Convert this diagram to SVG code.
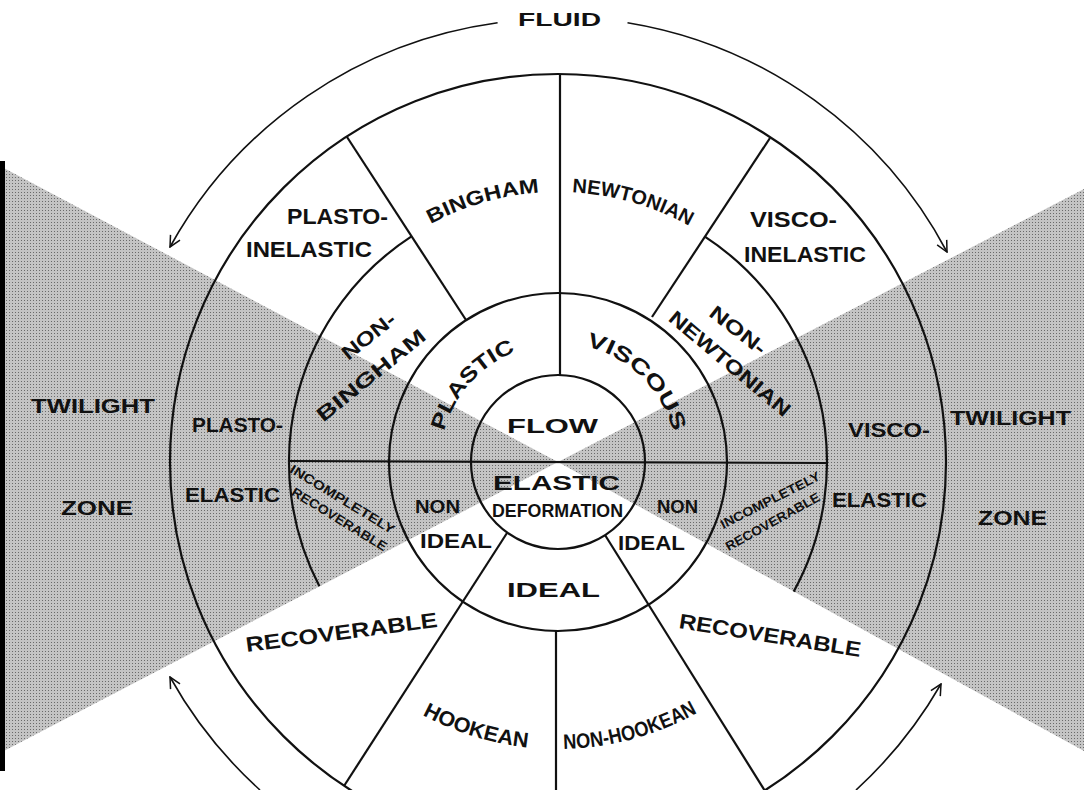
<svg xmlns="http://www.w3.org/2000/svg" width="1084" height="790" viewBox="0 0 1084 790">
<defs>
  <pattern id="halftone" width="3" height="3" patternUnits="userSpaceOnUse">
    <rect width="3" height="3" fill="#c4c4c4"/>
    <rect x="0" y="0" width="1" height="1" fill="#6a6a6a"/>
  </pattern>
  <marker id="arrow" viewBox="0 0 12 12" refX="11" refY="6" markerWidth="13" markerHeight="13" markerUnits="userSpaceOnUse" orient="auto">
    <path d="M1,1 L11,6 L1,11" fill="none" stroke="#111" stroke-width="1.4"/>
  </marker>
  <path id="pBinghamTop" d="M430.4,224.1 A270,270 0 0 1 539.6,192.6"/>
  <path id="pNewtonianTop" d="M572.1,192.4 A270,270 0 0 1 689.3,226.1"/>
  <path id="pPlastic" d="M444.0,431.5 A118,118 0 0 1 515.7,351.8"/>
  <path id="pViscous" d="M586.0,346.3 A119,119 0 0 1 673.0,431.6"/>
  <path id="pHookean" d="M421.9,714.7 A287,287 0 0 0 528.0,747.4"/>
  <path id="pNonHookean" d="M563.0,749.0 A287,287 0 0 0 698.0,712.5"/>
</defs>
<style>
  .ln { fill: none; stroke: #111; stroke-width: 2.2; }
  .thin { fill: none; stroke: #111; stroke-width: 1.6; }
  .shade { fill: url(#halftone); }
  text { font-family: "Liberation Sans", Arial, sans-serif; font-weight: bold; fill: #111; }
  .t22 { font-size: 22px; }
  .t21 { font-size: 21px; }
  .t20 { font-size: 20px; }
  .t19 { font-size: 19px; }
  .t18 { font-size: 18px; }
  .t13 { font-size: 13px; }
</style>
<rect width="1084" height="790" fill="#ffffff"/>

<g id="twilight-shading">
  <polygon class="shade" points="558,462 0,166 0,753"/>
  <polygon class="shade" points="558,462 1084,189 1084,751"/>
  <rect x="0" y="161" width="5" height="610" fill="#000"/>
</g>

<g id="connectors">
  <circle class="ln" cx="558" cy="462" r="87"/>
  <circle class="ln" cx="558" cy="462" r="169"/>
  <circle class="ln" cx="558" cy="462" r="388"/>
  <path class="ln" d="M411.5,236.4 A269,269 0 0 0 319.4,586.2"/>
  <path class="ln" d="M704.5,236.4 A269,269 0 0 1 793.7,591.6"/>
  <line class="ln" x1="289" y1="461" x2="827" y2="463"/>
  <line class="ln" x1="560" y1="74" x2="560" y2="375"/>
  <line class="ln" x1="556" y1="631" x2="556" y2="790"/>
  <line class="ln" x1="347" y1="137" x2="466" y2="320"/>
  <line class="ln" x1="770" y1="138" x2="652" y2="317"/>
  <line class="ln" x1="507" y1="533" x2="344" y2="786"/>
  <line class="ln" x1="605" y1="535" x2="765" y2="791"/>
  <path class="thin" d="M497.6,22.7 A443,443 0 0 0 170,247" marker-end="url(#arrow)"/>
  <path class="thin" d="M627.5,22.7 A443,443 0 0 1 947,252" marker-end="url(#arrow)"/>
  <path class="thin" d="M260,790 A443,443 0 0 1 170,677" marker-end="url(#arrow)"/>
  <path class="thin" d="M856,790 A443,443 0 0 0 941,684" marker-end="url(#arrow)"/>
</g>

<g id="fluid"><text class="t19" x="559.5" y="26" text-anchor="middle" textLength="83" lengthAdjust="spacingAndGlyphs">FLUID</text></g>

<g id="plasto-inelastic">
  <text class="t22" x="337.5" y="224" text-anchor="middle" textLength="101" lengthAdjust="spacingAndGlyphs">PLASTO-</text>
  <text class="t22" x="309" y="257" text-anchor="middle" textLength="126" lengthAdjust="spacingAndGlyphs">INELASTIC</text>
</g>
<g id="visco-inelastic">
  <text class="t22" x="793.5" y="227" text-anchor="middle" textLength="87" lengthAdjust="spacingAndGlyphs">VISCO-</text>
  <text class="t22" x="805" y="262" text-anchor="middle" textLength="122" lengthAdjust="spacingAndGlyphs">INELASTIC</text>
</g>
<g id="bingham"><text class="t20"><textPath href="#pBinghamTop" startOffset="50%" text-anchor="middle" textLength="114" lengthAdjust="spacingAndGlyphs">BINGHAM</textPath></text></g>
<g id="newtonian"><text class="t20"><textPath href="#pNewtonianTop" startOffset="50%" text-anchor="middle" textLength="123" lengthAdjust="spacingAndGlyphs">NEWTONIAN</textPath></text></g>

<g id="non-bingham">
  <text class="t20" transform="translate(368.3,335.8) rotate(-38.5)" x="0" y="7.2" text-anchor="middle" textLength="63" lengthAdjust="spacingAndGlyphs">NON-</text>
  <text class="t20" transform="translate(370.8,375) rotate(-39)" x="0" y="7.2" text-anchor="middle" textLength="134" lengthAdjust="spacingAndGlyphs">BINGHAM</text>
</g>
<g id="non-newtonian">
  <text class="t20" transform="translate(738.3,330) rotate(38)" x="0" y="7.2" text-anchor="middle" textLength="66" lengthAdjust="spacingAndGlyphs">NON-</text>
  <text class="t20" transform="translate(730,363.3) rotate(40)" x="0" y="7.2" text-anchor="middle" textLength="152" lengthAdjust="spacingAndGlyphs">NEWTONIAN</text>
</g>

<g id="plastic"><text class="t21"><textPath href="#pPlastic" startOffset="50%" text-anchor="middle" textLength="111" lengthAdjust="spacingAndGlyphs">PLASTIC</textPath></text></g>
<g id="viscous"><text class="t21"><textPath href="#pViscous" startOffset="50%" text-anchor="middle" textLength="128" lengthAdjust="spacingAndGlyphs">VISCOUS</textPath></text></g>

<g id="flow"><text class="t21" x="552.5" y="433" text-anchor="middle" textLength="91" lengthAdjust="spacingAndGlyphs">FLOW</text></g>
<g id="elastic-deformation">
  <text class="t21" x="556.5" y="490" text-anchor="middle" textLength="127" lengthAdjust="spacingAndGlyphs">ELASTIC</text>
  <text class="t18" x="557.5" y="517" text-anchor="middle" textLength="131" lengthAdjust="spacingAndGlyphs">DEFORMATION</text>
</g>
<g id="non-ideal-left">
  <text class="t18" x="437.5" y="513" text-anchor="middle" textLength="45" lengthAdjust="spacingAndGlyphs">NON</text>
  <text class="t20" x="456" y="548" text-anchor="middle" textLength="72" lengthAdjust="spacingAndGlyphs">IDEAL</text>
</g>
<g id="non-ideal-right">
  <text class="t18" x="677.5" y="513" text-anchor="middle" textLength="41" lengthAdjust="spacingAndGlyphs">NON</text>
  <text class="t20" x="651.5" y="550" text-anchor="middle" textLength="67" lengthAdjust="spacingAndGlyphs">IDEAL</text>
</g>
<g id="ideal"><text class="t21" x="553.5" y="597" text-anchor="middle" textLength="93" lengthAdjust="spacingAndGlyphs">IDEAL</text></g>

<g id="twilight-zone-left">
  <text class="t21" x="93" y="413" text-anchor="middle" textLength="124" lengthAdjust="spacingAndGlyphs">TWILIGHT</text>
  <text class="t20" x="97" y="515" text-anchor="middle" textLength="72" lengthAdjust="spacingAndGlyphs">ZONE</text>
</g>
<g id="twilight-zone-right">
  <text class="t21" x="1010.5" y="425" text-anchor="middle" textLength="121" lengthAdjust="spacingAndGlyphs">TWILIGHT</text>
  <text class="t20" x="1012.5" y="525" text-anchor="middle" textLength="69" lengthAdjust="spacingAndGlyphs">ZONE</text>
</g>
<g id="plasto-elastic">
  <text class="t20" x="237.5" y="432" text-anchor="middle" textLength="91" lengthAdjust="spacingAndGlyphs">PLASTO-</text>
  <text class="t20" x="232.5" y="502" text-anchor="middle" textLength="95" lengthAdjust="spacingAndGlyphs">ELASTIC</text>
</g>
<g id="visco-elastic">
  <text class="t21" x="889" y="437" text-anchor="middle" textLength="82" lengthAdjust="spacingAndGlyphs">VISCO-</text>
  <text class="t21" x="879.5" y="507" text-anchor="middle" textLength="95" lengthAdjust="spacingAndGlyphs">ELASTIC</text>
</g>
<g id="incompletely-recoverable-left">
  <text class="t13" transform="translate(342.5,499) rotate(31.4)" x="0" y="4.7" text-anchor="middle" textLength="120" lengthAdjust="spacingAndGlyphs">INCOMPLETELY</text>
  <text class="t13" transform="translate(339.5,519) rotate(31.5)" x="0" y="4.7" text-anchor="middle" textLength="109" lengthAdjust="spacingAndGlyphs">RECOVERABLE</text>
</g>
<g id="incompletely-recoverable-right">
  <text class="t13" transform="translate(770,500) rotate(-27)" x="0" y="4.7" text-anchor="middle" textLength="110" lengthAdjust="spacingAndGlyphs">INCOMPLETELY</text>
  <text class="t13" transform="translate(772.5,521.5) rotate(-29)" x="0" y="4.7" text-anchor="middle" textLength="106" lengthAdjust="spacingAndGlyphs">RECOVERABLE</text>
</g>
<g id="recoverable-left"><text class="t21" transform="translate(342.5,639.5) rotate(-7.5)" x="0" y="0" text-anchor="middle" textLength="193" lengthAdjust="spacingAndGlyphs">RECOVERABLE</text></g>
<g id="recoverable-right"><text class="t21" transform="translate(769,642.5) rotate(9)" x="0" y="0" text-anchor="middle" textLength="184" lengthAdjust="spacingAndGlyphs">RECOVERABLE</text></g>
<g id="hookean"><text class="t21"><textPath href="#pHookean" startOffset="50%" text-anchor="middle" textLength="111" lengthAdjust="spacingAndGlyphs">HOOKEAN</textPath></text></g>
<g id="non-hookean"><text class="t21"><textPath href="#pNonHookean" startOffset="50%" text-anchor="middle" textLength="140" lengthAdjust="spacingAndGlyphs">NON-HOOKEAN</textPath></text></g>
</svg>
